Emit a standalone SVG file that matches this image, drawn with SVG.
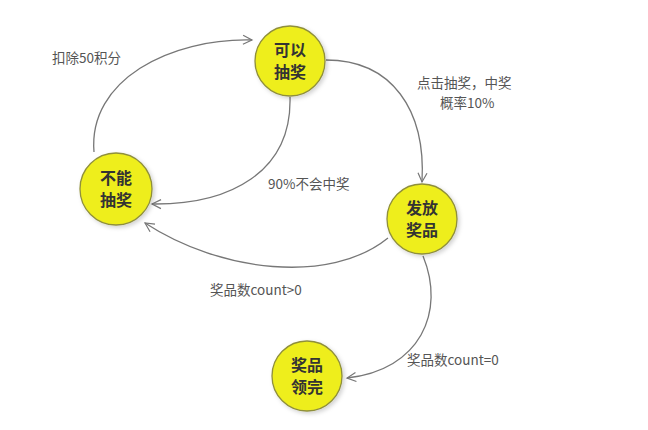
<svg xmlns="http://www.w3.org/2000/svg" width="648" height="430" viewBox="0 0 648 430">
<style>
.node{fill:#eeee1e;stroke:#8f8f3a;stroke-width:1.3}
.nt{font-family:"Noto Sans CJK SC","Noto Sans",sans-serif;font-size:16px;font-weight:bold;fill:#333;text-anchor:middle}
.edge{fill:none;stroke:#777;stroke-width:1.3}
.lbl{font-family:"Noto Sans CJK SC","Noto Sans",sans-serif;font-size:13.5px;fill:#555}
</style>
<defs>
<marker id="arr" markerWidth="12" markerHeight="12" refX="10" refY="5" orient="auto" markerUnits="userSpaceOnUse" viewBox="0 0 12 10">
<path d="M1,0.5 L10,5 L1,9.5" fill="none" stroke="#777" stroke-width="1.2"/>
</marker>
<filter id="sh" x="-20%" y="-20%" width="150%" height="150%">
<feDropShadow dx="2" dy="2" stdDeviation="2" flood-color="#000" flood-opacity="0.18"/>
</filter>
</defs>
<rect width="648" height="430" fill="#fff"/>
<g id="connectors">
<path class="edge" d="M94 152 C88 80,170 38,252 40" marker-end="url(#arr)"/>
<path class="edge" d="M290 97 C292 172,230 205,152 204" marker-end="url(#arr)"/>
<path class="edge" d="M326 60 C392 60,426 110,422 182" marker-end="url(#arr)"/>
<path class="edge" d="M388 238 C330 285,220 272,145 223" marker-end="url(#arr)"/>
<path class="edge" d="M423 256 C446 312,420 370,347 378" marker-end="url(#arr)"/>
<text class="lbl" x="52" y="63">扣除50积分</text>
<text class="lbl" x="417" y="88">点击抽奖，中奖</text>
<text class="lbl" x="440" y="108">概率10%</text>
<text class="lbl" x="268" y="189">90%不会中奖</text>
<text class="lbl" x="210" y="295">奖品数count&gt;0</text>
<text class="lbl" x="407" y="365">奖品数count=0</text>
</g>
<g id="node-keyi">
<circle class="node" cx="290" cy="61" r="35" filter="url(#sh)"/>
<text class="nt" x="290" y="56">可以</text>
<text class="nt" x="290" y="78">抽奖</text>
</g>
<g id="node-buneng">
<circle class="node" cx="116" cy="189" r="36" filter="url(#sh)"/>
<text class="nt" x="116" y="184">不能</text>
<text class="nt" x="116" y="206">抽奖</text>
</g>
<g id="node-fafang">
<circle class="node" cx="422" cy="219" r="35" filter="url(#sh)"/>
<text class="nt" x="422" y="214">发放</text>
<text class="nt" x="422" y="236">奖品</text>
</g>
<g id="node-lingwan">
<circle class="node" cx="307" cy="376" r="35" filter="url(#sh)"/>
<text class="nt" x="307" y="371">奖品</text>
<text class="nt" x="307" y="393">领完</text>
</g>
</svg>
